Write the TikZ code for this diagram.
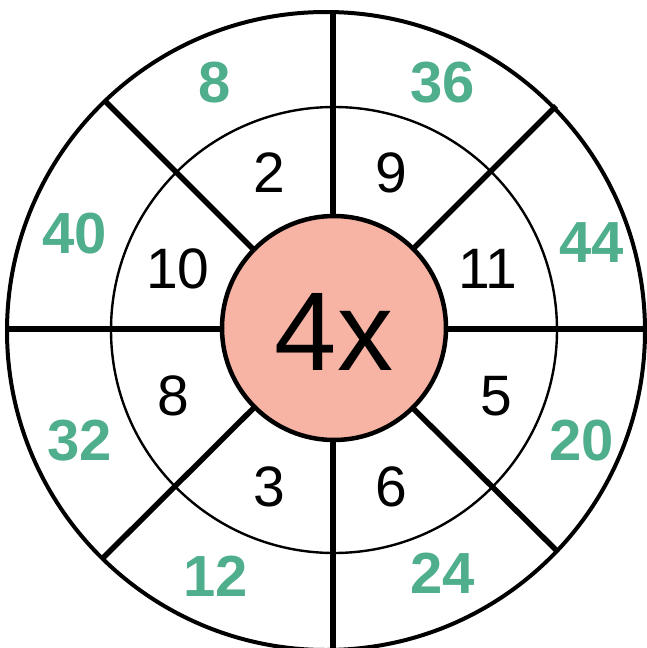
\documentclass[tikz,border=0pt]{standalone}
\usepackage{fontspec}
\setmainfont{Liberation Sans}
\definecolor{numgreen}{RGB}{79,174,140}
\definecolor{salmon}{RGB}{247,180,164}
\tikzset{
  ring/.style={draw=black, line width=4pt},
  midring/.style={draw=black, line width=2.4pt},
  spoke/.style={draw=black, line width=5.5pt},
  hub/.style={draw=black, line width=4.5pt, fill=salmon},
  outernum/.style={anchor=base, text=numgreen, font=\fontsize{58}{58}\selectfont\bfseries, inner sep=0pt},
  innernum/.style={anchor=base, text=black, font=\fontsize{57}{57}\selectfont, inner sep=0pt},
  hubtext/.style={anchor=base, text=black, font=\fontsize{112}{112}\selectfont, inner sep=0pt}
}
\begin{document}
\begin{tikzpicture}[x=1pt, y=-1pt]
\useasboundingbox (0,0) rectangle (646,648);
\fill[white] (0,0) rectangle (646,648);
\coordinate (c) at (333,329);
\coordinate (oc) at (326,331);
% rings
\draw[ring] (oc) circle[radius=319];
\draw[midring] (334,330) circle[radius=223];
% spokes
\coordinate (top) at (333,12);
\coordinate (bot) at (333,652);
\coordinate (lft) at (7,329);
\coordinate (rgt) at (650,329);
\coordinate (nw) at (104,100);
\coordinate (ne) at (556,106);
\coordinate (sw) at (102,559);
\coordinate (se) at (558,552);
\draw[spoke] (top) -- (bot);
\draw[spoke] (lft) -- (rgt);
\draw[spoke] (nw) -- (c) -- (se);
\draw[spoke] (ne) -- (c) -- (sw);
% hub
\draw[hub] (334,328) circle[radius=112];
\node[hubtext] (hx) at (334,370) {4x};
% outer numbers
\node[outernum] (o8) at (215,102) {8};
\node[outernum] (o36) at (443,102) {36};
\node[outernum] (o40) at (75,253) {40};
\node[outernum] (o44) at (592,262) {44};
\node[outernum] (o32) at (80,460) {32};
\node[outernum] (o20) at (582,460) {20};
\node[outernum] (o12) at (216,596) {12};
\node[outernum] (o24) at (443,593) {24};
% inner numbers
\node[innernum] (i2) at (269,192) {2};
\node[innernum] (i9) at (391,192) {9};
\node[innernum] (i10) at (178,288) {10};
\node[innernum] (i11) at (488,288) {11};
\node[innernum] (i8) at (173,415) {8};
\node[innernum] (i5) at (496,415) {5};
\node[innernum] (i3) at (269,506) {3};
\node[innernum] (i6) at (391,506) {6};
\end{tikzpicture}
\end{document}
